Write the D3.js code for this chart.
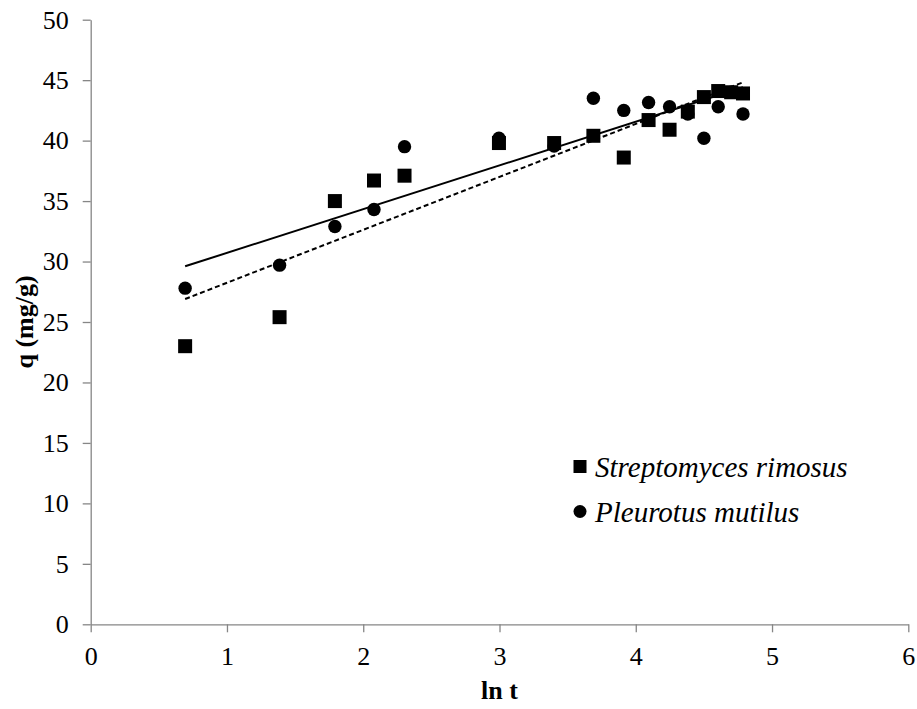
<!DOCTYPE html>
<html>
<head>
<meta charset="utf-8">
<script src="https://cdn.jsdelivr.net/npm/d3@7"></script>
<style>
  html, body { margin: 0; padding: 0; background: #fff; }
  svg { display: block; }
</style>
</head>
<body>
<svg id="chart" width="917" height="709"></svg>
<script>
// ln t for t = 2 ... 120 min
const lnT = [0.693, 1.386, 1.792, 2.079, 2.303, 2.996, 3.401, 3.689, 3.912, 4.094, 4.248, 4.382, 4.500, 4.605, 4.700, 4.787];
// q (mg/g) for each biomass
const streptomyces = [23.0, 25.4, 35.0, 36.7, 37.1, 39.8, 39.8, 40.4, 38.6, 41.7, 40.9, 42.4, 43.6, 44.1, 44.0, 43.9];
const pleurotus    = [27.8, 29.7, 32.9, 34.3, 39.5, 40.2, 39.55, 43.5, 42.5, 43.15, 42.8, 42.2, 40.2, 42.8, 44.0, 42.2];
const seriesNames = ["Streptomyces rimosus", "Pleurotus mutilus"];
const xTicks = [0, 1, 2, 3, 4, 5, 6];
const yTicks = [0, 5, 10, 15, 20, 25, 30, 35, 40, 45, 50];

const svg = d3.select("#chart");
const font = "'Liberation Serif', 'Times New Roman', serif";
const axisColor = "#868686";

const x = d3.scaleLinear().domain([0, 6]).range([90.7, 908.3]);
const y = d3.scaleLinear().domain([0, 50]).range([624.3, 19.7]);

// axes
const gx = svg.append("g").attr("transform", `translate(0,${y(0)})`)
  .call(d3.axisBottom(x).tickValues(xTicks).tickFormat(d3.format("d")).tickSize(8).tickPadding(14).tickSizeOuter(0));
const gy = svg.append("g").attr("transform", `translate(${x(0)},0)`)
  .call(d3.axisLeft(y).tickValues(yTicks).tickFormat(d3.format("d")).tickSize(8).tickPadding(14).tickSizeOuter(0));
[gx, gy].forEach(g => {
  g.select(".domain").attr("stroke", axisColor).attr("stroke-width", 1.3);
  g.selectAll(".tick line").attr("stroke", axisColor).attr("stroke-width", 1.3);
  g.selectAll(".tick text").attr("fill", "#000").style("font-family", font).style("font-size", "26px");
});

// axis titles
svg.append("text")
  .attr("x", (x(0) + x(6)) / 2).attr("y", 699)
  .attr("text-anchor", "middle")
  .style("font-family", font).style("font-size", "26px").style("font-weight", "bold")
  .text("ln t");
svg.append("text")
  .attr("transform", `translate(24,${(y(0) + y(50)) / 2}) rotate(-90)`)
  .attr("text-anchor", "middle").attr("dominant-baseline", "central")
  .style("font-family", font).style("font-size", "26px").style("font-weight", "bold")
  .text("q (mg/g)");

// least-squares linear fit
function linearFit(xs, ys) {
  const mx = d3.mean(xs), my = d3.mean(ys);
  let sxy = 0, sxx = 0;
  xs.forEach((v, i) => { sxy += (v - mx) * (ys[i] - my); sxx += (v - mx) * (v - mx); });
  const slope = sxy / sxx;
  return { slope, intercept: my - slope * mx };
}

const series = [
  { name: seriesNames[0], values: streptomyces, shape: "square", dash: "5,3" },
  { name: seriesNames[1], values: pleurotus, shape: "circle", dash: null }
];

const plot = svg.append("g");
series.forEach(s => {
  const pts = lnT.map((t, i) => ({ x: t, y: s.values[i] }));
  if (s.shape === "square") {
    plot.append("g").selectAll("rect").data(pts).join("rect")
      .attr("x", d => x(d.x) - 7).attr("y", d => y(d.y) - 7)
      .attr("width", 14).attr("height", 14).attr("fill", "#000");
  } else {
    plot.append("g").selectAll("circle").data(pts).join("circle")
      .attr("cx", d => x(d.x)).attr("cy", d => y(d.y)).attr("r", 6.7).attr("fill", "#000");
  }
});

// linear trendlines across the measured range
series.forEach(s => {
  const fit = linearFit(lnT, s.values);
  const ends = d3.extent(lnT).map(t => ({ x: t, y: fit.intercept + fit.slope * t }));
  plot.append("path")
    .attr("d", d3.line().x(d => x(d.x)).y(d => y(d.y))(ends))
    .attr("fill", "none").attr("stroke", "#000").attr("stroke-width", 2)
    .attr("stroke-dasharray", s.dash);
});

// legend
const legend = svg.append("g");
const legendRows = [{ name: seriesNames[0], shape: "square", cy: 466.5 }, { name: seriesNames[1], shape: "circle", cy: 511.5 }];
legendRows.forEach(r => {
  if (r.shape === "square") {
    legend.append("rect").attr("x", 573.5).attr("y", r.cy - 6.5).attr("width", 13).attr("height", 13).attr("fill", "#000");
  } else {
    legend.append("circle").attr("cx", 580).attr("cy", r.cy).attr("r", 6.5).attr("fill", "#000");
  }
  legend.append("text")
    .attr("x", 595).attr("y", r.cy + 10)
    .style("font-family", font).style("font-size", "29px").style("font-style", "italic")
    .text(r.name);
});
</script>
</body>
</html>
